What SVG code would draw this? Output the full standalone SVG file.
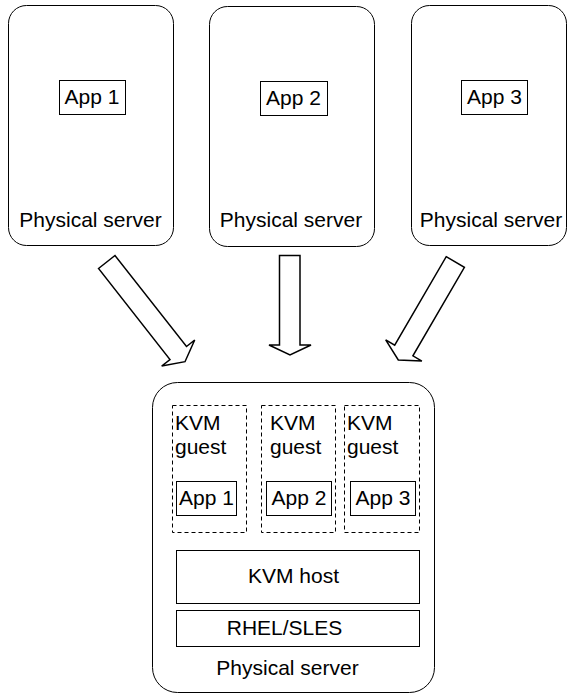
<svg xmlns="http://www.w3.org/2000/svg" width="568" height="694" viewBox="0 0 568 694">
<style>
.box{fill:#fff;stroke:#000;stroke-width:1}
.dash{fill:#fff;stroke:#000;stroke-width:1;stroke-dasharray:4 3}
.arrow{fill:#fff;stroke:#000;stroke-width:1.5;stroke-linejoin:miter}
text{font-family:"Liberation Sans",Arial,sans-serif;font-size:21px;fill:#000}
.c{text-anchor:middle}
</style>
<rect width="568" height="694" fill="#fff"/>
<g id="server1">
<rect class="box" x="8.5" y="5.5" width="165" height="240" rx="18"/>
<rect class="box" x="59.5" y="80.5" width="66" height="34"/>
<text class="c" x="92" y="104">App 1</text>
<text class="c" x="90.5" y="227">Physical server</text>
</g>
<g id="server2">
<rect class="box" x="209.5" y="6.5" width="165" height="240" rx="18"/>
<rect class="box" x="260.5" y="81.5" width="67" height="34"/>
<text class="c" x="293.5" y="105">App 2</text>
<text class="c" x="291" y="227">Physical server</text>
</g>
<g id="server3">
<rect class="box" x="411.5" y="5.5" width="155" height="240" rx="18"/>
<rect class="box" x="461.5" y="80.5" width="66" height="34"/>
<text class="c" x="494.5" y="104">App 3</text>
<text class="c" x="491" y="227">Physical server</text>
</g>
<g id="connectors">
<polygon class="arrow" points="98.5,268.5 115,255.5 186.5,346.5 194.7,340 185,361.7 161.7,366 170,359.5"/>
<polygon class="arrow" points="279.5,255.5 300,255.5 300,345 311,345 290,355 269,345 279.5,345"/>
<polygon class="arrow" points="446.2,256.7 464.4,267.3 412.9,355.8 421.9,361.1 398.3,360 385.7,339.9 394.7,345.2"/>
</g>
<g id="host">
<rect class="box" x="152.5" y="382.5" width="282" height="310" rx="25"/>
<text class="c" x="287.5" y="675">Physical server</text>
</g>
<g id="guest1">
<rect class="dash" x="172.5" y="405.5" width="74" height="127"/>
<text x="175" y="430">KVM</text>
<text x="175" y="454">guest</text>
<rect class="box" x="176.5" y="481.5" width="60" height="34"/>
<text class="c" x="206.5" y="505">App 1</text>
</g>
<g id="guest2">
<rect class="dash" x="261.5" y="405.5" width="74" height="127"/>
<text x="270" y="430">KVM</text>
<text x="270" y="454">guest</text>
<rect class="box" x="266.5" y="481.5" width="65" height="34"/>
<text class="c" x="299" y="505">App 2</text>
</g>
<g id="guest3">
<rect class="dash" x="344.5" y="405.5" width="75" height="127"/>
<text x="347" y="430">KVM</text>
<text x="347" y="454">guest</text>
<rect class="box" x="350.5" y="481.5" width="65" height="34"/>
<text class="c" x="383" y="505">App 3</text>
</g>
<g id="kvmhost">
<rect class="box" x="176.5" y="550.5" width="243" height="53"/>
<text class="c" x="293.5" y="583">KVM host</text>
</g>
<g id="rhel">
<rect class="box" x="176.5" y="610.5" width="243" height="36"/>
<text class="c" x="284.5" y="635">RHEL/SLES</text>
</g>
</svg>
